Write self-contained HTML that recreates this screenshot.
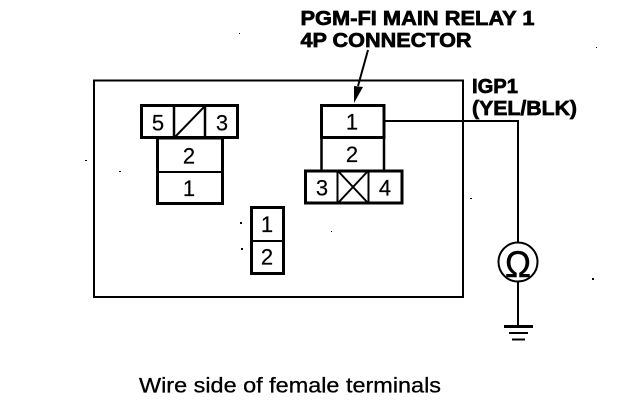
<!DOCTYPE html>
<html>
<head>
<meta charset="utf-8">
<style>
html,body{margin:0;padding:0;background:#fff;}
svg{display:block;}
.n{font-family:"Liberation Sans",sans-serif;font-size:22px;fill:#000;text-anchor:middle;stroke:#000;stroke-width:.2px;}
.b{font-family:"Liberation Sans",sans-serif;font-size:20px;font-weight:bold;fill:#000;stroke:#000;stroke-width:.7px;}
</style>
</head>
<body>
<svg width="624" height="416" viewBox="0 0 624 416" xmlns="http://www.w3.org/2000/svg">
<rect width="624" height="416" fill="#fff"/>
<g fill="none" stroke="#000">
<rect x="94" y="80.5" width="369" height="216.5" stroke-width="2"/>
<!-- left connector -->
<rect x="141.5" y="105.5" width="96" height="32" stroke-width="3"/>
<path d="M174 105V138M205 105V138" stroke-width="2.5"/>
<path d="M175 137L204 107" stroke-width="2"/>
<rect x="157.5" y="138" width="65" height="65.5" stroke-width="3"/>
<path d="M157 172H222" stroke-width="2"/>
<!-- right connector -->
<rect x="321.5" y="105.5" width="62.5" height="32" stroke-width="3"/>
<path d="M321.5 137V170M384 137V170" stroke-width="2.5"/>
<rect x="305.5" y="171" width="96.5" height="32" stroke-width="3"/>
<path d="M337.5 171V203M368.5 171V203" stroke-width="2"/>
<path d="M338 171L368 203M368 171L338 203" stroke-width="2"/>
<!-- small connector -->
<rect x="251.5" y="207.5" width="32" height="66" stroke-width="3"/>
<path d="M251 241H283" stroke-width="2"/>
<!-- wire -->
<path d="M385 121H518V243" stroke-width="2"/>
<circle cx="518" cy="262" r="19.5" stroke-width="2"/>
<path d="M518 282V326" stroke-width="2"/>
<path d="M504 326.5H533" stroke-width="3"/>
<path d="M509 333H528" stroke-width="2"/>
<path d="M512 339.5H525" stroke-width="2"/>
<!-- arrow -->
<path d="M368 50L358 86" stroke-width="2"/>
</g>
<path d="M354 103L354 86L363 87Z" fill="#000"/>
<g class="n">
<text x="158" y="130.5">5</text>
<text x="222" y="130.5">3</text>
<text x="189" y="163.5">2</text>
<text x="189" y="196">1</text>
<text x="352" y="129.5">1</text>
<text x="352" y="162">2</text>
<text x="322" y="195.5">3</text>
<text x="385" y="195.5">4</text>
<text x="267" y="232">1</text>
<text x="267" y="264.5">2</text>
</g>
<text x="518" y="277" font-family="'Liberation Sans',sans-serif" font-size="37" text-anchor="middle" fill="#000" stroke="#000" stroke-width=".5" textLength="26" lengthAdjust="spacingAndGlyphs">Ω</text>
<text class="b" x="300.5" y="25" textLength="234" lengthAdjust="spacingAndGlyphs">PGM-FI MAIN RELAY 1</text>
<text class="b" x="300.5" y="47" textLength="171" lengthAdjust="spacingAndGlyphs">4P CONNECTOR</text>
<text class="b" x="472" y="93" textLength="46" lengthAdjust="spacingAndGlyphs">IGP1</text>
<text class="b" x="472" y="115" textLength="105" lengthAdjust="spacingAndGlyphs">(YEL/BLK)</text>
<text x="139" y="392.5" font-family="'Liberation Sans',sans-serif" font-size="21" fill="#000" stroke="#000" stroke-width=".3" textLength="302" lengthAdjust="spacingAndGlyphs">Wire side of female terminals</text>
<g fill="#000">
<rect x="239" y="33" width="1" height="1"/>
<rect x="85" y="160" width="2" height="1"/>
<rect x="119" y="171" width="2" height="1"/>
<rect x="240" y="222" width="2" height="2"/>
<rect x="241" y="248" width="2" height="2"/>
<rect x="331" y="231" width="1" height="1"/>
<rect x="470" y="198" width="2" height="1"/>
<rect x="596" y="47" width="1" height="1"/>
<rect x="592" y="278" width="2" height="2"/>
</g>
</svg>
</body>
</html>
